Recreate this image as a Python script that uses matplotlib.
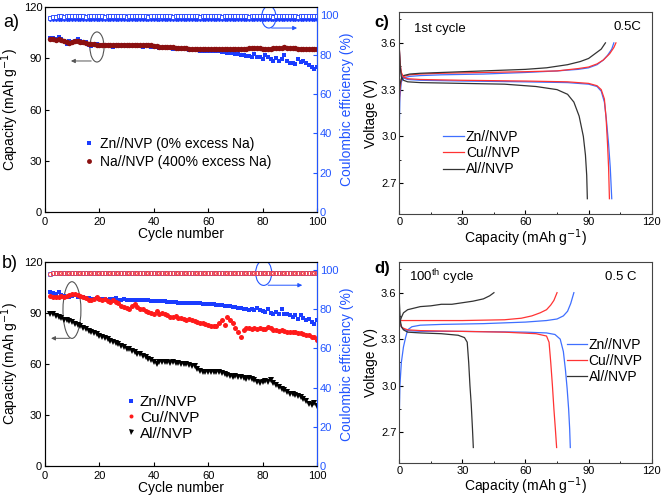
import matplotlib
matplotlib.use("Agg")
import matplotlib.pyplot as plt
import numpy as np
from matplotlib.patches import Ellipse

plt.rcParams['font.family'] = ['Liberation Sans', 'DejaVu Sans']
plt.rcParams['xtick.direction'] = 'in'
plt.rcParams['ytick.direction'] = 'in'

# ---------------- data ----------------
cycles = list(range(2, 101))

zn_a = [102, 102, 101, 102.5, 101, 100, 98.5, 100, 99.5, 100,
        101.5, 100, 99, 99.5, 98, 97, 97.5, 98.5, 97, 97.5,
        98, 97.5, 97, 96.5, 97.5, 98, 97, 97.5, 97, 97,
        97, 97.5, 97, 97, 96.5, 97.5, 97, 96.5, 96.5, 96.5,
        96, 96, 96.5, 96, 96, 95.5, 96, 95.5, 95.5, 95.5,
        95.5, 95, 95, 95, 95, 94.5, 94.5, 94.5, 94.5, 94.5,
        94, 94, 94, 93.5, 93.5, 93, 93, 93, 92.5, 92.5,
        92, 92, 91.5, 91.5, 91, 92.5, 90.5, 91, 89.5, 92,
        90.5, 89.5, 88.5, 90, 88.5, 89.5, 92, 88.5, 87.5, 87.5,
        86.5, 89.5, 88, 88.5, 87, 86, 85, 83.5, 85]

na_a = [101, 101, 100.5, 101, 100.5, 100, 99.5, 99, 99.5, 100,
        100, 99.5, 99.5, 99, 98.5, 98.5, 98.5, 98, 98, 98,
        98, 97.5, 98, 97.5, 97.5, 97.5, 97.5, 98, 97.5, 97.5,
        97.5, 97.5, 97.5, 97.5, 98, 98, 97.5, 97.5, 97, 97,
        96.5, 96.5, 96.5, 96.5, 96.5, 96.5, 96, 96, 96, 96,
        96, 95.5, 95.5, 95.5, 95.5, 95.5, 95.5, 95.5, 95.5, 95.5,
        95.5, 95.5, 95.5, 95.5, 95.5, 95.5, 95.5, 95.5, 95.5, 95.5,
        95.5, 95.5, 95.5, 96, 96, 96, 96, 96, 95.5, 95.5,
        95.5, 95.5, 96, 96, 96, 96, 96.5, 96, 96, 96,
        96, 95.5, 95.5, 95.5, 95.5, 95.5, 95.5, 95.5, 95.5]

ce_zn_a = [98.5, 99.3, 99.4, 99.5, 99.5, 99.4, 99.5, 99.5, 99.6, 99.5,
           99.6, 99.5, 99.5, 99.4, 99.5, 99.5, 99.6, 99.5, 99.5, 99.5,
           99.4, 99.5, 99.5, 99.5, 99.6, 99.5, 99.5, 99.5, 99.4, 99.5,
           99.5, 99.5, 99.6, 99.5, 99.5, 99.5, 99.4, 99.5, 99.5, 99.5,
           99.5, 99.6, 99.5, 99.5, 99.5, 99.4, 99.5, 99.5, 99.5, 99.5,
           99.6, 99.5, 99.5, 99.5, 99.5, 99.4, 99.5, 99.5, 99.5, 99.6,
           99.5, 99.5, 99.5, 99.4, 99.5, 99.5, 99.5, 99.5, 99.6, 99.5,
           99.5, 99.5, 99.5, 99.4, 99.5, 99.5, 99.5, 99.6, 99.5, 99.5,
           99.5, 99.5, 99.4, 99.5, 99.5, 99.5, 99.5, 99.6, 99.5, 99.5,
           99.5, 99.4, 99.5, 99.5, 99.5, 99.5, 99.6, 99.5, 99.5]

ce_na_a = [97.6, 97.8, 97.8, 97.9, 97.8, 97.8, 97.8, 97.9, 97.8, 97.8,
           97.8, 97.8, 97.9, 97.8, 97.8, 97.8, 97.8, 97.8, 97.9, 97.8,
           97.8, 97.8, 97.8, 97.8, 97.8, 97.9, 97.8, 97.8, 97.8, 97.8,
           97.8, 97.8, 97.8, 97.9, 97.8, 97.8, 97.8, 97.8, 97.8, 97.8,
           97.5, 97.8, 97.8, 97.8, 97.8, 97.9, 97.8, 97.8, 97.8, 97.8,
           97.8, 97.8, 97.8, 97.8, 97.9, 97.8, 97.8, 97.8, 97.8, 97.8,
           97.8, 97.8, 97.9, 97.8, 97.8, 97.8, 97.8, 97.8, 97.8, 97.8,
           97.9, 97.8, 97.8, 97.8, 97.8, 97.8, 97.8, 97.8, 97.9, 97.8,
           97.8, 97.8, 97.8, 97.8, 97.8, 97.8, 97.9, 97.8, 97.8, 97.8,
           97.8, 97.8, 97.8, 97.8, 97.8, 97.9, 97.8, 97.8, 97.8]

zn_b = [102, 101.5, 101, 102, 100.5, 100, 99.5, 99, 100, 100.5,
        99.5, 99, 99, 98.5, 98.5, 98, 98, 98.5, 98, 98,
        98, 97.5, 98, 98, 98.5, 97.5, 97.5, 98, 97.5, 97.5,
        97.5, 97.5, 97.5, 97.5, 97.5, 97.5, 97.5, 97, 97, 97,
        97, 97, 97, 96.5, 96.5, 96.5, 96.5, 96, 96, 96,
        96, 96, 95.5, 95.5, 95.5, 95.5, 95, 95, 95, 95,
        95, 94.5, 94.5, 94.5, 94, 94, 94, 93.5, 93.5, 93,
        93, 92.5, 92, 91.5, 92, 91.5, 93, 91.5, 91, 90.5,
        92, 90, 89.5, 90.5, 89, 92, 89, 89, 88.5, 87.5,
        88.5, 86.5, 88.5, 87, 86, 86.5, 84.5, 83.5, 85.5]

cu_b = [100, 99.5, 99, 99.5, 100, 99.5, 100, 100.5, 101, 101,
        100.5, 100, 99, 98.5, 97.5, 97.5, 98, 99, 98, 97.5,
        98, 97, 96.5, 97.5, 96.5, 95.5, 94, 93.5, 93, 92.5,
        94, 95, 93.5, 92.5, 92, 91, 90.5, 90, 89.5, 91,
        89.5, 90, 89, 88.5, 87.5, 87.5, 88, 87, 87, 86.5,
        86, 86.5, 86, 85, 84.5, 84, 84, 83.5, 83, 82.5,
        82, 82.5, 84, 85.5, 83, 87.5, 86, 84, 81, 79,
        76, 80, 81, 81, 80.5, 81, 80.5, 81, 80.5, 80.5,
        81.5, 81, 80, 80, 79.5, 80, 79.5, 79, 79, 79,
        78.5, 78, 78, 77.5, 77, 77, 76, 75.5, 74]

al_b = [89.5, 89, 88, 87.5, 87, 86, 85.5, 85, 84.5, 83.5,
        83, 82, 81, 80.5, 79.5, 79, 78, 77.5, 76.5, 76,
        75, 74.5, 73.5, 73, 72, 71.5, 70.5, 70, 69, 68.5,
        67.5, 67, 66, 65.5, 64.5, 64, 63, 62, 61, 60,
        61, 61, 61, 61, 60.5, 61, 60.5, 60.5, 60, 60,
        60, 59.5, 59, 58.5, 57, 56, 55, 55, 55.5, 55,
        55, 55, 55.5, 54.5, 54, 53.5, 53, 52.5, 53, 52,
        52.5, 51.5, 51, 51.5, 51, 50.5, 49.5, 49, 49.5, 50,
        49.5, 50.5, 49, 47.5, 46.5, 45.5, 44.5, 43.5, 42.5, 42,
        41.5, 41, 40.5, 39.5, 38, 36.5, 36, 37, 35.5]

ce_zn_b = [98.0, 98.3, 98.4, 98.4, 98.5, 98.4, 98.4, 98.5, 98.4, 98.4,
           98.5, 98.4, 98.4, 98.4, 98.5, 98.4, 98.4, 98.4, 98.5, 98.4,
           98.4, 98.4, 98.5, 98.4, 98.4, 98.4, 98.4, 98.5, 98.4, 98.4,
           98.4, 98.4, 98.5, 98.4, 98.4, 98.4, 98.4, 98.5, 98.4, 98.4,
           98.4, 98.4, 98.5, 98.4, 98.4, 98.4, 98.4, 98.5, 98.4, 98.4,
           98.4, 98.4, 98.5, 98.4, 98.4, 98.4, 98.4, 98.5, 98.4, 98.4,
           98.4, 98.4, 98.5, 98.4, 98.4, 98.4, 98.4, 98.5, 98.4, 98.4,
           98.4, 98.4, 98.5, 98.4, 98.4, 98.4, 98.4, 98.5, 98.4, 98.4,
           98.4, 98.4, 98.5, 98.4, 98.4, 98.4, 98.4, 98.5, 98.4, 98.4,
           98.4, 98.4, 98.5, 98.4, 98.4, 98.4, 98.4, 98.5, 98.4]

ce_cu_b = [98.2, 98.6, 98.6, 98.7, 98.6, 98.6, 98.6, 98.7, 98.6, 98.6,
           98.6, 98.7, 98.6, 98.6, 98.6, 98.6, 98.7, 98.6, 98.6, 98.6,
           98.6, 98.7, 98.6, 98.6, 98.6, 98.6, 98.7, 98.6, 98.6, 98.6,
           98.6, 98.7, 98.6, 98.6, 98.6, 98.6, 98.7, 98.6, 98.6, 98.6,
           98.6, 98.7, 98.6, 98.6, 98.6, 98.6, 98.7, 98.6, 98.6, 98.6,
           98.6, 98.7, 98.6, 98.6, 98.6, 98.6, 98.7, 98.6, 98.6, 98.6,
           98.6, 98.7, 98.6, 98.6, 98.6, 98.6, 98.7, 98.6, 98.6, 98.6,
           98.6, 98.7, 98.6, 98.6, 98.6, 98.6, 98.7, 98.6, 98.6, 98.6,
           98.6, 98.7, 98.6, 98.6, 98.6, 98.6, 98.7, 98.6, 98.6, 98.6,
           98.6, 98.7, 98.6, 98.6, 98.6, 98.6, 98.7, 98.6, 98.6]

# Panel c: 1st cycle charge / discharge curves (capacity, voltage)
c_zn_chg_q = [0, 0.3, 1, 2, 5, 10, 20, 40, 60, 75, 85, 90, 94, 97, 99, 101, 102]
c_zn_chg_v = [3.05, 3.25, 3.35, 3.375, 3.385, 3.39, 3.395, 3.40, 3.41, 3.42, 3.43, 3.44, 3.46, 3.49, 3.52, 3.56, 3.60]
c_cu_chg_q = [0, 0.3, 1, 2, 5, 10, 20, 40, 60, 75, 85, 90, 94, 97, 100, 102, 103]
c_cu_chg_v = [3.20, 3.30, 3.37, 3.385, 3.395, 3.40, 3.405, 3.41, 3.415, 3.42, 3.435, 3.445, 3.465, 3.49, 3.53, 3.57, 3.60]
c_al_chg_q = [0, 0.3, 1, 2, 5, 10, 20, 40, 60, 70, 80, 86, 90, 93, 96, 98]
c_al_chg_v = [3.28, 3.33, 3.37, 3.39, 3.40, 3.405, 3.41, 3.42, 3.43, 3.44, 3.46, 3.48, 3.50, 3.53, 3.56, 3.60]
c_zn_dis_q = [0, 0.5, 1, 2, 4, 10, 30, 60, 80, 90, 94, 96, 97.5, 98.5, 99.5, 100.3, 101]
c_zn_dis_v = [3.56, 3.45, 3.40, 3.375, 3.365, 3.36, 3.355, 3.35, 3.345, 3.335, 3.32, 3.29, 3.22, 3.10, 2.95, 2.80, 2.60]
c_cu_dis_q = [0, 0.5, 1, 2, 4, 10, 30, 60, 80, 90, 94, 96, 97.5, 98.3, 99, 99.5, 99.9]
c_cu_dis_v = [3.57, 3.46, 3.41, 3.38, 3.37, 3.365, 3.36, 3.355, 3.35, 3.34, 3.325, 3.30, 3.24, 3.12, 2.95, 2.80, 2.60]
c_al_dis_q = [0, 0.5, 1, 2, 4, 10, 30, 50, 65, 75, 80, 83, 85.5, 87.5, 88.5, 89.1, 89.4]
c_al_dis_v = [3.57, 3.44, 3.38, 3.36, 3.35, 3.345, 3.34, 3.335, 3.32, 3.30, 3.27, 3.22, 3.13, 3.00, 2.88, 2.75, 2.60]

# Panel d: 100th cycle
d_zn_chg_q = [0, 0.3, 1, 2, 3, 4, 6, 10, 20, 40, 60, 70, 75, 78, 80, 81.5, 83]
d_zn_chg_v = [2.80, 3.00, 3.15, 3.25, 3.31, 3.36, 3.38, 3.39, 3.395, 3.40, 3.41, 3.42, 3.43, 3.45, 3.48, 3.53, 3.60]
d_cu_chg_q = [0, 1, 5, 10, 30, 50, 58, 63, 67, 70, 72, 73.5, 75]
d_cu_chg_v = [3.42, 3.42, 3.42, 3.42, 3.42, 3.425, 3.435, 3.45, 3.47, 3.49, 3.52, 3.55, 3.60]
d_al_chg_q = [0, 1, 2, 4, 7, 10, 15, 20, 25, 30, 35, 40, 43, 45]
d_al_chg_v = [3.40, 3.44, 3.47, 3.49, 3.50, 3.51, 3.515, 3.525, 3.525, 3.535, 3.545, 3.56, 3.58, 3.60]
d_zn_dis_q = [0, 0.5, 1, 2, 4, 10, 30, 60, 70, 74, 76.5, 78, 79, 79.8, 80.5, 81, 81.3]
d_zn_dis_v = [3.46, 3.40, 3.38, 3.365, 3.355, 3.35, 3.35, 3.345, 3.34, 3.33, 3.30, 3.22, 3.10, 2.98, 2.85, 2.72, 2.60]
d_cu_dis_q = [0, 0.5, 1, 2, 4, 10, 30, 50, 65, 70, 71.2, 72, 72.8, 73.5, 74.2, 74.8]
d_cu_dis_v = [3.44, 3.40, 3.38, 3.37, 3.36, 3.355, 3.35, 3.345, 3.335, 3.32, 3.28, 3.15, 3.00, 2.85, 2.72, 2.60]
d_al_dis_q = [0, 0.5, 1, 2, 4, 10, 20, 28, 31, 32.3, 33, 33.6, 34.2, 34.8, 35.2]
d_al_dis_v = [3.55, 3.42, 3.38, 3.36, 3.345, 3.34, 3.335, 3.325, 3.31, 3.28, 3.15, 3.00, 2.88, 2.72, 2.60]

BLUE = '#1a3cff'
AXBLUE = '#2255ff'
DRED = '#8b1010'
RED = '#ff1a1a'
LBLUE = '#3f6fff'
LRED = '#ff3333'
GRAY = '#333333'

fig = plt.figure(figsize=(6.64, 5.0), dpi=100)

def style_right(ax2):
    ax2.set_ylim(0, 104.3)
    ax2.set_yticks([0, 20, 40, 60, 80, 100])
    ax2.spines['right'].set_color(AXBLUE)
    ax2.tick_params(axis='y', colors=AXBLUE, labelsize=8, length=3, pad=2)
    ax2.set_ylabel('Coulombic efficiency (%)', color=AXBLUE, fontsize=10, labelpad=1)

def style_left(ax):
    ax.set_xlim(0, 100)
    ax.set_ylim(0, 120)
    ax.set_xticks([0, 20, 40, 60, 80, 100])
    ax.set_yticks([0, 30, 60, 90, 120])
    ax.tick_params(labelsize=8, length=3, pad=2)
    ax.tick_params(axis='x', pad=3.5)
    ax.set_xlabel('Cycle number', fontsize=10, labelpad=0)
    ax.set_ylabel('Capacity (mAh g$^{-1}$)', fontsize=10, labelpad=2)
    for s in ['left', 'bottom', 'top']:
        ax.spines[s].set_color('#444444')

# ---------- panel a ----------
axa = fig.add_axes([0.0678, 0.576, 0.4096, 0.410])
axa2 = axa.twinx()
axa.plot(cycles, zn_a, 's', color=BLUE, ms=3.2, mew=0, label='Zn//NVP (0% excess Na)', zorder=3)
axa.plot(cycles, na_a, 'o', color=DRED, ms=3.9, mew=0, label='Na//NVP (400% excess Na)', zorder=4)
axa2.plot(cycles, ce_na_a, '-', color=BLUE, lw=1.2, marker='.', ms=2)
axa2.plot(cycles, ce_zn_a, 's', color=BLUE, ms=2.6, mfc='white', mew=0.6)
style_left(axa)
style_right(axa2)
axa.legend(loc='upper left', bbox_to_anchor=(0.12, 0.40), frameon=False, fontsize=10,
           handlelength=0.6, handletextpad=0.5, labelspacing=0.3, borderpad=0, markerscale=0.9)
axa.add_patch(Ellipse((19.1, 96.6), 5.2, 17.6, fill=False, ec='#555555', lw=0.8))
axa.annotate('', xy=(8.5, 88.4), xytext=(18, 88.4),
             arrowprops=dict(arrowstyle='-|>', color='#555555', lw=0.7, mutation_scale=6))
axa2.add_patch(Ellipse((82.3, 99.2), 5.3, 11.2, fill=False, ec=AXBLUE, lw=0.8))
axa2.annotate('', xy=(93.7, 93.6), xytext=(82.3, 93.6),
              arrowprops=dict(arrowstyle='-|>', color=AXBLUE, lw=0.7, mutation_scale=6))
fig.text(0.005, 0.955, 'a)', fontsize=13, ha='left', va='center')

# ---------- panel b ----------
axb = fig.add_axes([0.0678, 0.068, 0.4096, 0.4086])
axb2 = axb.twinx()
axb.plot(cycles, zn_b, 's', color=BLUE, ms=3.2, mew=0, label='Zn//NVP', zorder=3)
axb.plot(cycles, cu_b, 'o', color=RED, ms=3.6, mew=0, label='Cu//NVP', zorder=4)
axb.plot(cycles, al_b, 'v', color='black', ms=4.5, mew=0, label='Al//NVP', zorder=5)
axb2.plot(cycles, ce_zn_b, 's', color=LBLUE, ms=2.8, mfc='white', mew=0.6)
axb2.plot(cycles, ce_cu_b, 'o', color=LRED, ms=2.8, mfc='none', mew=0.6)
style_left(axb)
style_right(axb2)
axb.legend(loc='upper left', bbox_to_anchor=(0.27, 0.385), frameon=False, fontsize=11,
           handlelength=0.6, handletextpad=0.3, labelspacing=0.12, borderpad=0, markerscale=0.8)
axb.add_patch(Ellipse((9.9, 91.6), 6.6, 33.3, fill=False, ec='#555555', lw=0.8))
axb.annotate('', xy=(1.2, 75), xytext=(10, 75),
             arrowprops=dict(arrowstyle='-|>', color='#555555', lw=0.7, mutation_scale=6))
axb2.add_patch(Ellipse((80.4, 98.6), 5.9, 12.8, fill=False, ec=AXBLUE, lw=0.8))
axb2.annotate('', xy=(95.6, 92.3), xytext=(81, 92.3),
              arrowprops=dict(arrowstyle='-|>', color=AXBLUE, lw=0.7, mutation_scale=6))
fig.text(0.003, 0.472, 'b)', fontsize=13, ha='left', va='center')

# ---------- panel c / d ----------
def style_v(ax):
    ax.set_xlim(0, 120)
    ax.set_ylim(2.5, 3.8)
    ax.set_xticks([0, 30, 60, 90, 120])
    ax.set_xticks([15, 45, 75, 105], minor=True)
    ax.set_yticks([2.7, 3.0, 3.3, 3.6])
    ax.set_yticks([2.85, 3.15, 3.45, 3.75], minor=True)
    ax.set_yticklabels(['2.7', '3.0', '3.3', '3.6'])
    ax.tick_params(labelsize=8, length=3, pad=2)
    ax.tick_params(which='minor', length=1.5)
    ax.set_xlabel('Capacity (mAh g$^{-1}$)', fontsize=10, labelpad=0)
    ax.set_ylabel('Voltage (V)', fontsize=10, labelpad=2)
    for s in ax.spines.values():
        s.set_color('#444444')

axc = fig.add_axes([0.6013, 0.5714, 0.3802, 0.4052])
axc.plot(c_zn_chg_q, c_zn_chg_v, color=LBLUE, lw=0.9, label='Zn//NVP')
axc.plot(c_cu_chg_q, c_cu_chg_v, color=LRED, lw=0.9, label='Cu//NVP')
axc.plot(c_al_chg_q, c_al_chg_v, color=GRAY, lw=0.9, label='Al//NVP')
axc.plot(c_zn_dis_q, c_zn_dis_v, color=LBLUE, lw=0.9)
axc.plot(c_cu_dis_q, c_cu_dis_v, color=LRED, lw=0.9)
axc.plot(c_al_dis_q, c_al_dis_v, color=GRAY, lw=0.9)
style_v(axc)
axc.legend(loc='upper left', bbox_to_anchor=(0.173, 0.415), frameon=False, fontsize=10,
           handlelength=1.5, handletextpad=0.15, labelspacing=0.15, borderpad=0, borderaxespad=0)
axc.text(0.06, 0.915, '1st cycle', transform=axc.transAxes, fontsize=9.5, ha='left', va='center')
axc.text(0.96, 0.925, '0.5C', transform=axc.transAxes, fontsize=9.5, ha='right', va='center')
fig.text(0.564, 0.955, 'c)', fontsize=12, ha='left', va='center', fontweight='bold')

axd = fig.add_axes([0.6013, 0.074, 0.3802, 0.4026])
axd.plot(d_zn_chg_q, d_zn_chg_v, color=LBLUE, lw=0.9, label='Zn//NVP')
axd.plot(d_cu_chg_q, d_cu_chg_v, color=LRED, lw=0.9, label='Cu//NVP')
axd.plot(d_al_chg_q, d_al_chg_v, color=GRAY, lw=0.9, label='Al//NVP')
axd.plot(d_zn_dis_q, d_zn_dis_v, color=LBLUE, lw=0.9)
axd.plot(d_cu_dis_q, d_cu_dis_v, color=LRED, lw=0.9)
axd.plot(d_al_dis_q, d_al_dis_v, color=GRAY, lw=0.9)
style_v(axd)
axd.legend(loc='upper left', bbox_to_anchor=(0.665, 0.62), frameon=False, fontsize=10,
           handlelength=1.4, handletextpad=0.15, labelspacing=0.15, borderpad=0, borderaxespad=0)
axd.text(0.04, 0.925, '100$^{\\mathregular{th}}$ cycle', transform=axd.transAxes, fontsize=9.5, ha='left', va='center')
axd.text(0.94, 0.925, '0.5 C', transform=axd.transAxes, fontsize=9.5, ha='right', va='center')
fig.text(0.564, 0.462, 'd)', fontsize=12, ha='left', va='center', fontweight='bold')

fig.savefig('out.png', dpi=100)
